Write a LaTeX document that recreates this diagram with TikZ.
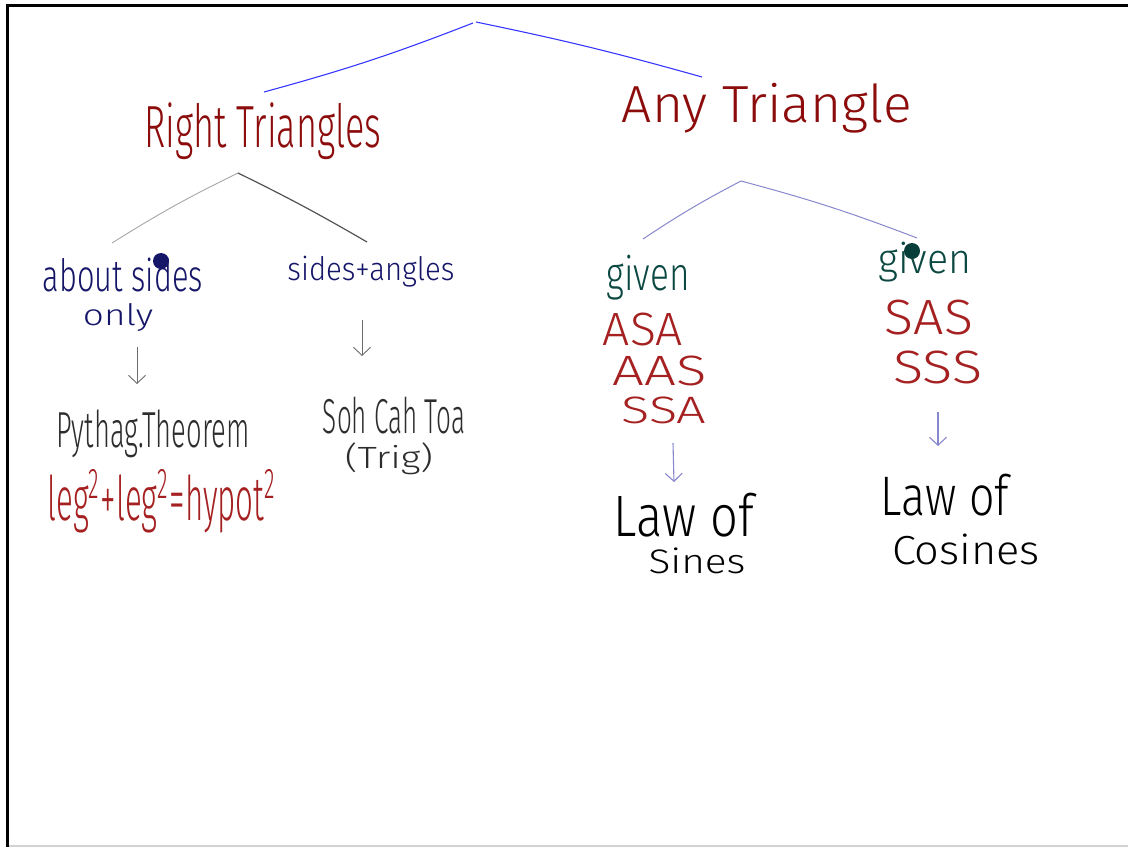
\documentclass[tikz,border=0pt]{standalone}
\usepackage{fontspec}
\setmainfont{Fira Sans Light}
\usepackage{graphicx}
\usetikzlibrary{arrows.meta}
\definecolor{titlered}{RGB}{140,12,12}
\definecolor{navyink}{RGB}{22,22,105}
\definecolor{greyink}{RGB}{45,45,45}
\definecolor{formred}{RGB}{165,32,32}
\definecolor{tealink}{RGB}{12,72,66}
\definecolor{dotteal}{RGB}{8,62,58}
\definecolor{blueink}{RGB}{55,55,255}
\definecolor{lavink}{RGB}{135,135,205}
\newcommand{\hwbox}[3]{\resizebox*{#1pt}{#2pt}{#3}}
\begin{document}
\begin{tikzpicture}[x=1pt,y=-1pt,
  hw/.style={inner sep=0pt, outer sep=0pt, anchor=center},
  title/.style={hw, text=titlered},
  navytext/.style={hw, text=navyink},
  greytext/.style={hw, text=greyink},
  redtext/.style={hw, text=formred},
  tealtext/.style={hw, text=tealink},
  blacktext/.style={hw, text=black},
  blueline/.style={draw=blueink, line width=1.1pt},
  greyarrow/.style={draw=gray!85!black, line width=0.9pt, -{Straight Barb[length=8pt,width=17pt]}},
  lavarrow/.style={draw=lavink, line width=1.1pt, -{Straight Barb[length=8pt,width=17pt]}},
  lavline/.style={draw=lavink, line width=1pt},
]
\useasboundingbox (0,0) rectangle (1128,847);
% frame
\draw[line width=2.6pt] (6,5.3) -- (1128,5.3);
\draw[line width=3pt] (7.5,4) -- (7.5,847);
\draw[gray!35, line width=2pt] (9,846) -- (1128,846);

% top tree
\coordinate (topL) at (473,23);
\coordinate (topR) at (476,22);
\coordinate (rtEnd) at (264,92);
\coordinate (atEnd) at (702,77);
\draw[blueline] (rtEnd) to[bend right=3] (topL);
\draw[blueline] (topR) to[bend left=2] (atEnd);

\node[title] (rt) at (263,131) {\hwbox{237}{57}{Right Triangles}};
\node[title] (at) at (767,108) {\hwbox{290}{50}{Any Triangle}};

% right triangles branch
\coordinate (rtApex) at (238,173);
\coordinate (rtLeft) at (112,243);
\coordinate (rtRight) at (367,242);
\draw[draw=gray!70, line width=0.9pt] (rtLeft) to[bend left=3] (rtApex);
\draw[draw=gray!65!black, line width=1.2pt] (rtApex) to[bend left=2] (rtRight);

\node[navytext] (sides) at (123,275) {\hwbox{160}{34}{about sides}};
\fill[navyink] (161,261) circle (8);
\node[navytext] (only) at (118,318) {\hwbox{70}{28}{only}};
\node[navytext] (sa) at (371,272) {\hwbox{167}{31}{sides+angles}};

\coordinate (a1s) at (137,347);
\coordinate (a1e) at (137,384);
\draw[greyarrow] (a1s) -- (a1e);
\coordinate (a2s) at (362,320);
\coordinate (a2e) at (362,356);
\draw[greyarrow] (a2s) -- (a2e);

\node[greytext] (py) at (153,434) {\hwbox{193}{48}{Pythag.Theorem}};
\node[redtext] (leg) at (162,501) {\hwbox{229}{64}{leg\textsuperscript{2}+leg\textsuperscript{2}=hypot\textsuperscript{2}}};
\node[greytext] (soh) at (394,416) {\hwbox{142}{37}{Soh Cah Toa}};
\node[greytext] (trig) at (389,459) {\hwbox{88}{32}{(Trig)}};

% any triangle branch
\coordinate (atApex) at (741,181);
\coordinate (atLeft) at (643,239);
\coordinate (atRight) at (917,238);
\draw[lavline] (atLeft) to[bend left=3] (atApex);
\draw[lavline] (atApex) to[bend left=3] (atRight);

\node[tealtext] (g1) at (648,278) {\hwbox{83}{45}{given}};
\node[tealtext] (g2) at (925,262) {\hwbox{93}{40}{given}};
\fill[dotteal] (912,251) circle (8);

\node[redtext] (asa) at (643,329) {\hwbox{80}{33}{ASA}};
\node[redtext] (aas) at (660,371) {\hwbox{94}{30}{AAS}};
\node[redtext] (ssa) at (664,410) {\hwbox{85}{27}{SSA}};
\node[redtext] (sas) at (929,318) {\hwbox{88}{35}{SAS}};
\node[redtext] (sss) at (938,367) {\hwbox{89}{33}{SSS}};

\coordinate (a3s) at (673,443);
\coordinate (a3e) at (674,482);
\draw[lavarrow] (a3s) -- (a3e);
\coordinate (a4s) at (938,412);
\coordinate (a4e) at (938,446);
\draw[lavarrow] (a4s) -- (a4e);

\node[blacktext] (law1) at (684,515) {\hwbox{140}{44}{Law of}};
\node[blacktext] (sines) at (697,561) {\hwbox{97}{26}{Sines}};
\node[blacktext] (law2) at (945,495) {\hwbox{128}{42}{Law of}};
\node[blacktext] (cos) at (966,549) {\hwbox{148}{31}{Cosines}};
\end{tikzpicture}
\end{document}
